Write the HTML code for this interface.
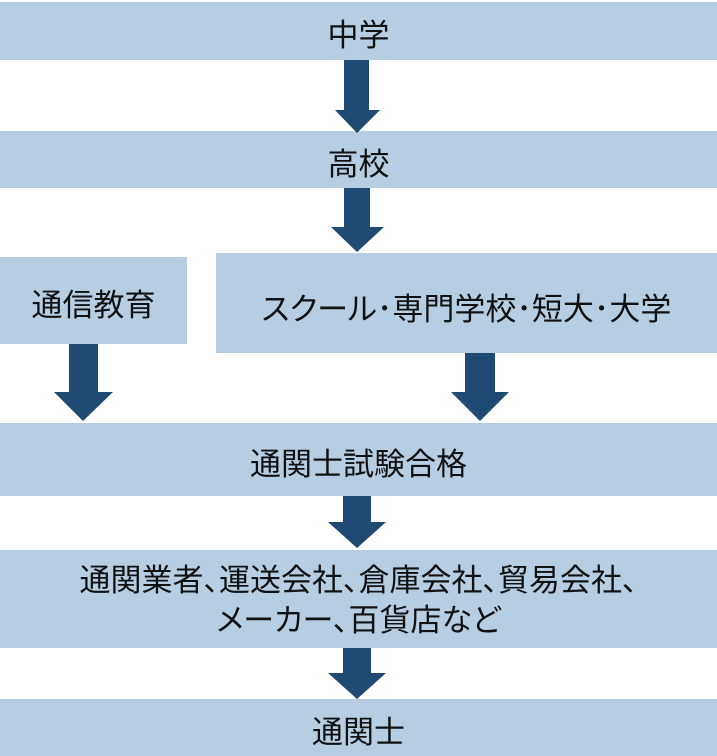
<!DOCTYPE html>
<html><head><meta charset="utf-8"><style>
body{margin:0;width:717px;height:756px;position:relative;background:#fff;overflow:hidden;font-family:"Liberation Sans","Noto Sans CJK JP",sans-serif;color:#111}
.b{position:absolute;box-sizing:border-box;padding-top:10px;background:#b7cee2;display:flex;align-items:center;justify-content:center;font-size:31px;font-feature-settings:"palt";text-align:center;line-height:40px}
svg{position:absolute;left:0;top:0}
</style></head><body>
<div class="b" style="left:0;top:2px;width:717px;height:58px">中学</div>
<div class="b" style="left:0;top:131px;width:717px;height:57px">高校</div>
<div class="b" style="left:0;top:257px;width:187px;height:87px">通信教育</div>
<div class="b" style="left:216px;top:253px;width:501px;height:100px;padding-top:14px">スクール･専門学校･短大･大学</div>
<div class="b" style="left:0;top:423px;width:717px;height:73px">通関士試験合格</div>
<div class="b" style="left:0;top:550px;width:717px;height:98px;padding-top:4px">通関業者、運送会社、倉庫会社、貿易会社、<br>メーカー、百貨店など</div>
<div class="b" style="left:0;top:699px;width:717px;height:57px">通関士</div>
<svg width="717" height="756" fill="#1f4a73">
<polygon points="344,60 369,60 369,110 380,110 357,133 335,110 344,110"/>
<polygon points="344,188 370,188 370,227 384,227 357,252 331,227 344,227"/>
<polygon points="69,344 98,344 98,392 113,392 83,421 54,392 69,392"/>
<polygon points="465,353 495,353 495,392 509,392 480,421 451,392 465,392"/>
<polygon points="343,496 371,496 371,522 386,522 357,548 328,522 343,522"/>
<polygon points="343,648 371,648 371,673 386,673 357,699 328,673 343,673"/>
</svg>
</body></html>
